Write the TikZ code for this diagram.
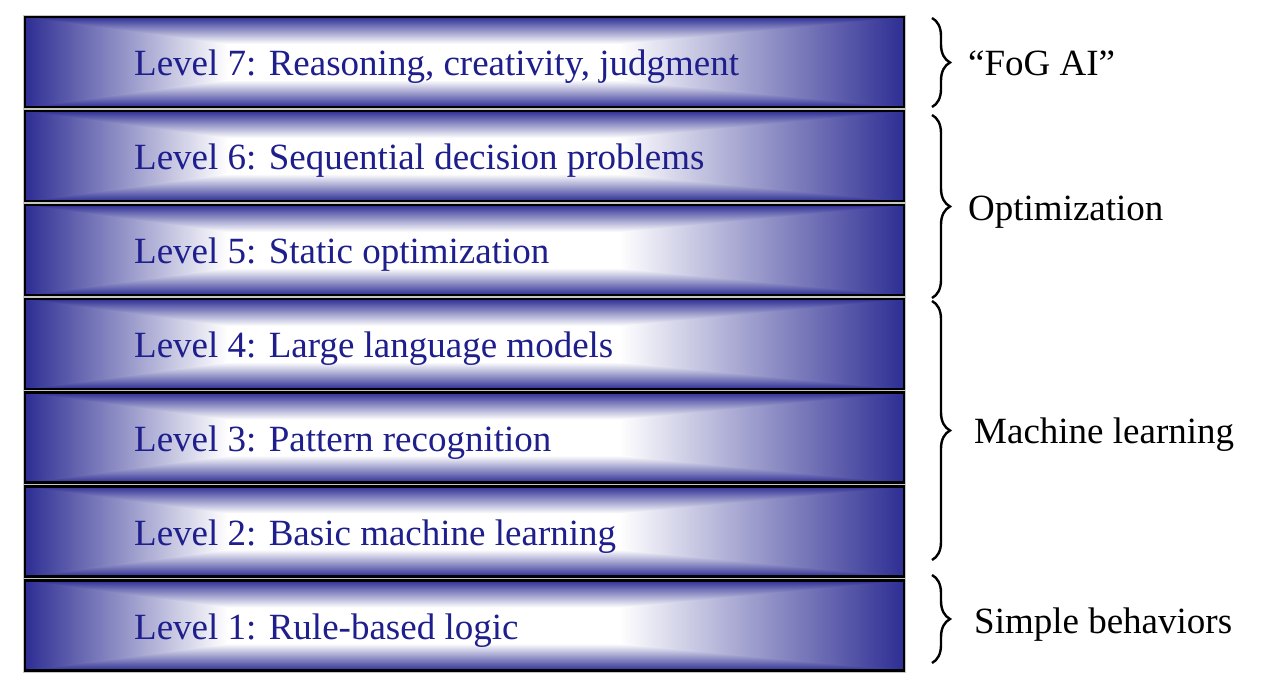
\documentclass[tikz,border=0pt]{standalone}
\usepackage{fontspec}
\setmainfont{Liberation Serif}
\usetikzlibrary{decorations.pathreplacing}
\definecolor{barblue}{RGB}{46,46,148}
\definecolor{labelblue}{RGB}{30,30,140}

\tikzset{
  barframe/.style={draw=black, line width=2.2pt, fill=none, inner sep=0pt,
    minimum width=879pt, minimum height=90pt},
  barhalo/.style={draw=gray!45, line width=4.5pt},
  lvltext/.style={font=\fontsize{37}{40}\selectfont, text=labelblue,
    inner sep=0pt, anchor=base west},
  grouplabel/.style={font=\fontsize{37}{40}\selectfont, text=black,
    inner sep=0pt, anchor=base west},
  curly/.style={decorate, decoration={brace, amplitude=18pt},
    line width=2.4pt, draw=black}
}

\begin{document}
\begin{tikzpicture}[x=1pt, y=-1pt]
\useasboundingbox (0,0) rectangle (1280,684);
\fill[white] (0,0) rectangle (1280,684);

% stacked level bars: blue at the rim, fading to white inside
\foreach \n/\t/\txt in {
    7/17/{Level 7: Reasoning, creativity, judgment},
    6/111/{Level 6: Sequential decision problems},
    5/205/{Level 5: Static optimization},
    4/299/{Level 4: Large language models},
    3/392.5/{Level 3: Pattern recognition},
    2/486.5/{Level 2: Basic machine learning},
    1/580.5/{Level 1: Rule-based logic}} {
  \pgfmathsetmacro\yb{\t+90}
  \draw[barhalo] (25,\t) rectangle (904,\yb);
  % side fades over the full height
  \fill[white] (227,\t) rectangle (620,\yb);
  \shade[left color=barblue, right color=white] (25,\t) rectangle (227.5,\yb);
  \shade[left color=white, right color=barblue] (619.5,\t) rectangle (904,\yb);
  % top fade, cut along the corner diagonals
  \begin{scope}
    \clip (25,\t) -- (227,\t+27) -- (620,\t+27) -- (904,\t) -- cycle;
    \shade[top color=barblue, bottom color=white] (25,\t) rectangle (904,\t+27);
  \end{scope}
  % bottom fade
  \begin{scope}
    \clip (25,\yb) -- (227,\yb-27) -- (620,\yb-27) -- (904,\yb) -- cycle;
    \shade[top color=white, bottom color=barblue] (25,\yb-27) rectangle (904,\yb);
  \end{scope}
  \node[barframe] (bar\n) at (464.5,\t+45) {};
  \node[lvltext] (txt\n) at (134,\t+59) {\txt};
}

% group braces
\coordinate (fogtop) at (932,18);
\coordinate (fogbot) at (932,107);
\coordinate (opttop) at (932,115);
\coordinate (optbot) at (932,298);
\coordinate (mltop) at (932,301);
\coordinate (mlbot) at (932,560);
\coordinate (simtop) at (932,575);
\coordinate (simbot) at (932,663);

\draw[curly] (fogtop) -- (fogbot);
\draw[curly] (opttop) -- (optbot);
\draw[curly] (mltop) -- (mlbot);
\draw[curly] (simtop) -- (simbot);

\node[grouplabel] (fog) at (968,76) {“FoG AI”};
\node[grouplabel] (opt) at (968,221) {Optimization};
\node[grouplabel] (ml) at (974,443) {Machine learning};
\node[grouplabel] (sim) at (974,633) {Simple behaviors};
\end{tikzpicture}
\end{document}
